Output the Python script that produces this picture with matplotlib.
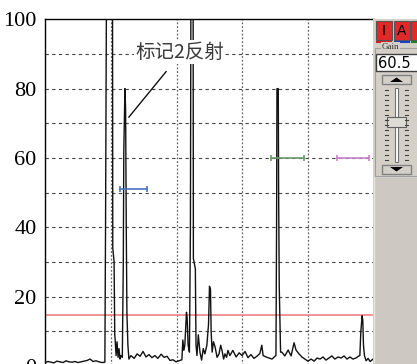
import matplotlib.pyplot as plt
from matplotlib.patches import Rectangle, Polygon

# A-scan trace (x: screen units 0-100, y: amplitude %)
trace_x = [0.0, 0.9, 1.8, 2.7, 3.6, 4.6, 5.5, 6.4, 7.3, 8.2, 9.1, 10.0, 10.9, 11.9, 12.8, 13.7, 14.6, 15.5, 16.4, 17.3, 18.2,
           18.4, 18.6, 18.8, 20.5, 20.6, 21.0, 21.2, 21.3, 21.6, 21.9, 22.2, 22.5, 22.8, 23.1, 23.5,
           23.8, 23.95, 24.3, 24.5, 24.7, 24.9, 25.2, 25.5,
           26.1, 27.1, 28.0, 28.9, 29.8, 30.7, 31.6, 32.5, 33.4, 34.3, 35.3, 36.2, 37.1, 38.0, 38.9, 39.8, 40.7, 41.6,
           41.9, 42.2, 42.5, 43.0, 43.2, 43.5, 43.9, 44.2, 44.4, 45.0, 45.1, 45.7, 45.9, 46.2,
           46.6, 47.1, 47.6, 48.1, 48.6, 49.2, 49.7, 50.0, 50.3, 50.5, 50.8, 51.2, 51.7, 52.3, 52.9, 53.4, 53.8, 54.3, 54.7, 55.2, 55.6,
           56.2, 57.1, 58.1, 59.0, 59.9, 60.8, 61.7, 62.6, 63.5, 64.4, 65.3, 65.9, 66.3, 67.2, 68.1, 69.0, 69.9,
           70.2, 70.4, 70.5, 70.9, 71.0, 71.2, 71.6,
           72.0, 72.9, 73.9, 74.8, 75.7, 76.3, 77.2, 78.1, 79.0, 79.9, 80.9, 81.8, 82.7, 83.6, 84.5, 85.4, 86.3, 87.2,
           88.1, 89.1, 90.0, 90.9, 91.8, 92.7, 93.6, 94.5, 95.4,
           95.7, 96.0, 96.4, 96.6, 96.8, 97.1, 97.6, 98.2, 98.8, 99.7]
trace_y = [1.0, 1.3, 1.1, 0.9, 1.4, 1.2, 1.0, 1.5, 1.2, 1.1, 1.3, 1.0, 1.2, 1.4, 1.6, 2.0, 1.3, 1.5, 1.2, 1.0, 1.1,
           40, 92, 130, 130, 34, 30, 9, 8, 3, 7, 2.5, 5, 2, 3, 2.5,
           30, 62, 80, 74, 40, 15, 6, 2,
           3.0, 2.2, 3.5, 2.8, 4.2, 2.6, 3.3, 2.4, 3.0, 2.2, 3.4, 2.5, 2.8, 1.6, 1.8, 1.2, 1.5, 1.8,
           7.5, 4.5, 6, 15.5, 14, 6, 4, 40, 130, 130, 31, 28, 6, 3,
           9, 4, 1.7, 5, 3.5, 6, 12, 23, 22, 10, 4, 7, 5.5, 2.5, 3.5, 6, 4.5, 2, 3.5, 2.5, 4.5,
           3.0, 4.5, 2.6, 3.8, 3.0, 4.2, 2.4, 3.3, 2.2, 2.8, 3.6, 6.0, 3.0, 2.6, 2.3, 2.0, 2.8,
           3, 43, 80, 80, 52, 23, 4,
           4.0, 2.9, 4.6, 2.9, 6.7, 4.6, 3.5, 2.6, 2.0, 1.4, 2.0, 1.4, 2.3, 2.0, 2.6, 1.7, 2.3, 2.9,
           2.0, 2.6, 2.3, 2.9, 2.0, 2.6, 2.0, 2.3, 2.9,
           3, 10, 14.5, 13, 6, 3, 1.5, 2.2, 1.3, 2]

threshold = 14.8

# gates: (start, end, level, colour)
gate_start = [22.8, 68.6, 88.7]
gate_end = [30.9, 78.7, 98.4]
gate_level = [51, 60, 60]
gate_colors = ['#4a72c0', '#6b9a6b', '#c884c8']

label_text = '标记2反射'
gain_value = '60.5'

fig = plt.figure(figsize=(4.17, 3.64), dpi=100)
ax = fig.add_axes([45 / 417, -2 / 364, 329 / 417, 346.7 / 364])
ax.set_xlim(0, 100)
ax.set_ylim(0, 100)

# grid
for yv in range(10, 100, 10):
    ax.axhline(yv, color='#444444', lw=0.8, ls=(0, (3, 3)), zorder=1)
for xv in range(20, 100, 20):
    ax.axvline(xv, color='#666666', lw=0.9, ls=(0, (1.5, 1.5)), zorder=1)

ax.plot(trace_x, trace_y, color='#111111', lw=1.0, zorder=3)
ax.axhline(threshold, color='#f08080', lw=1.2, zorder=2)

for s, e, lv, c in zip(gate_start, gate_end, gate_level, gate_colors):
    ax.plot([s, e], [lv, lv], color=c, lw=1.2, marker='|', ms=5, mew=1.2, zorder=4)

# annotation
ax.plot([25.5, 36.8], [71.8, 84.9], color='#111111', lw=1.0, zorder=4)
ax.text(40.9, 90.5, label_text, fontsize=14, color='#3a3a3a', ha='center', va='center',
        family=['Noto Sans CJK SC', 'DejaVu Sans'], zorder=5,
        bbox=dict(facecolor='white', edgecolor='none', pad=1))

ax.set_yticks(range(0, 101, 20))
ax.set_xticks([])
ax.tick_params(axis='y', length=0, pad=6)
for lbl in ax.get_yticklabels():
    lbl.set_fontfamily('Liberation Serif')
    lbl.set_fontsize(16)
for sp in ['right', 'bottom']:
    ax.spines[sp].set_visible(False)
for sp in ['left', 'top']:
    ax.spines[sp].set_linewidth(1.0)

# instrument side panel drawn in pixel coordinates
pan = fig.add_axes([0, 0, 1, 1])
pan.set_xlim(0, 417)
pan.set_ylim(364, 0)
pan.axis('off')

pan.add_patch(Rectangle((373, 19), 44, 345, facecolor='#d4d0c8', edgecolor='none'))
pan.add_patch(Rectangle((373, 178), 44, 186, facecolor='#cdc9c2', edgecolor='none'))
pan.plot([374, 374], [178, 364], color='#e8e6e0', lw=1)

# buttons
btn_x = [376, 394, 411]
btn_txt = ['I', 'A', '']
btn_line = ['#d02020', '#2040c0', '#208020']
for bx, bt, bl in zip(btn_x, btn_txt, btn_line):
    pan.add_patch(Rectangle((bx, 21), 16, 19, facecolor='#e02a2a', edgecolor='#555555', lw=0.8))
    pan.plot([bx + 1, bx + 15], [41.5, 41.5], color=bl, lw=1.5)
    pan.text(bx + 8, 31, bt, fontsize=10, ha='center', va='center', color='black', family='DejaVu Sans')

# group box
pan.add_patch(Rectangle((375, 48), 44, 128, facecolor='none', edgecolor='#a0a0a0', lw=0.8))
pan.text(382, 47, 'Gain', fontsize=6.5, ha='left', va='center', family='Liberation Serif',
         color='#333333', bbox=dict(facecolor='#d4d0c8', edgecolor='none', pad=0.5))

# value box
pan.add_patch(Rectangle((376, 54), 43, 17, facecolor='white', edgecolor='#404040', lw=1))
pan.text(378, 63, gain_value, fontsize=10.5, ha='left', va='center', family='DejaVu Sans', color='black')

# up/down buttons
pan.add_patch(Rectangle((382, 75), 29, 9, facecolor='#d4d0c8', edgecolor='#808080', lw=1))
pan.add_patch(Polygon([(390, 82), (403, 82), (396.5, 77.5)], closed=True, facecolor='black'))
pan.add_patch(Rectangle((382, 165), 29, 9, facecolor='#d4d0c8', edgecolor='#808080', lw=1))
pan.add_patch(Polygon([(390, 167), (403, 167), (396.5, 171.5)], closed=True, facecolor='black'))

# slider
pan.add_patch(Rectangle((395, 88), 3, 74, facecolor='#ffffff', edgecolor='#707070', lw=0.8))
for ty in range(90, 162, 5):
    pan.plot([385, 388], [ty, ty], color='#404040', lw=0.8)
    pan.plot([405, 408], [ty, ty], color='#404040', lw=0.8)
pan.add_patch(Rectangle((387, 117), 19, 10, facecolor='#dedbd5', edgecolor='#606060', lw=0.8))

fig.savefig('out.png', dpi=100)
